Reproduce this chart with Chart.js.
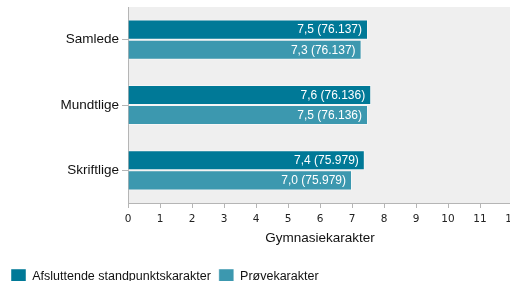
<!DOCTYPE html>
<html>
<head>
<meta charset="utf-8">
<script src="https://cdn.jsdelivr.net/npm/chart.js@4/dist/chart.umd.min.js"></script>
<style>
  html, body { margin: 0; padding: 0; background: #fff; overflow: hidden; }
  #wrap { position: absolute; left: 0; top: 0; width: 530px; height: 294px; }
</style>
</head>
<body>
<div id="wrap"><canvas id="chart"></canvas></div>
<script>
const categories = ['Samlede', 'Mundtlige', 'Skriftlige'];
const seriesNames = ['Afsluttende standpunktskarakter', 'Prøvekarakter'];
const standpunkt = [7.5, 7.6, 7.4];
const proeve = [7.3, 7.5, 7.0];
const counts = [76137, 76136, 75979];
const xTicks = [0, 1, 2, 3, 4, 5, 6, 7, 8, 9, 10, 11, 12];

const fmtVal = v => v.toFixed(1).replace('.', ',');
const fmtCount = n => n.toString().replace(/\B(?=(\d{3})+(?!\d))/g, '.');

// grey plot background
const plotBg = {
  id: 'plotBg',
  beforeDraw(chart) {
    const { ctx, chartArea: a } = chart;
    ctx.save();
    ctx.fillStyle = '#efefef';
    ctx.fillRect(a.left, a.top, chart.width - a.left, a.bottom - a.top);
    ctx.restore();
  }
};

// white value labels at the end of each bar
const barLabels = {
  id: 'barLabels',
  afterDatasetsDraw(chart) {
    const ctx = chart.ctx;
    ctx.save();
    ctx.font = '12px "Liberation Sans", Arial, sans-serif';
    ctx.fillStyle = '#fff';
    ctx.textAlign = 'right';
    ctx.textBaseline = 'middle';
    chart.data.datasets.forEach((ds, i) => {
      chart.getDatasetMeta(i).data.forEach((bar, j) => {
        ctx.fillText(fmtVal(ds.data[j]) + ' (' + fmtCount(counts[j]) + ')', bar.x - 6, bar.y + 0.5);
      });
    });
    ctx.restore();
  }
};

new Chart(document.getElementById('chart'), {
  type: 'bar',
  data: {
    labels: categories,
    datasets: [
      { label: seriesNames[0], data: standpunkt, backgroundColor: '#007997', borderColor: 'rgba(255,255,255,0.45)', borderWidth: 1 },
      { label: seriesNames[1], data: proeve, backgroundColor: '#3c98af', borderColor: 'rgba(255,255,255,0.45)', borderWidth: 1 }
    ]
  },
  options: {
    indexAxis: 'y',
    responsive: true,
    maintainAspectRatio: false,
    animation: false,
    layout: { padding: { left: 3, top: 7, right: 18, bottom: 0 } },
    datasets: { bar: { barPercentage: 1, categoryPercentage: 0.615 } },
    scales: {
      x: {
        min: 0,
        max: 12,
        afterBuildTicks: s => { s.ticks = xTicks.map(v => ({ value: v })); },
        grid: { drawOnChartArea: false, tickLength: 5, color: '#b5b5b5' },
        border: { color: '#b5b5b5' },
        ticks: { color: '#222', padding: 5, font: { family: '"DejaVu Sans"', size: 10.5 } },
        title: { display: true, text: 'Gymnasiekarakter', color: '#111', padding: { top: 4, bottom: 15 }, font: { family: '"Liberation Sans"', size: 13.5 } },
        afterFit: s => { s.height = 58; }
      },
      y: {
        grid: { drawOnChartArea: false, offset: false, tickLength: 6, color: '#b5b5b5' },
        border: { color: '#b5b5b5' },
        ticks: { color: '#111', padding: 3, font: { family: '"Liberation Sans"', size: 13.5 } },
        afterFit: s => { s.width = 125; s.paddingTop = 0; s.paddingBottom = 0; }
      }
    },
    plugins: {
      legend: {
        position: 'bottom',
        align: 'start',
        labels: { boxWidth: 15, boxHeight: 15, padding: 8, color: '#111', font: { family: '"Liberation Sans"', size: 12.5 } }
      },
      tooltip: { enabled: false }
    }
  },
  plugins: [plotBg, barLabels]
});
</script>
</body>
</html>
